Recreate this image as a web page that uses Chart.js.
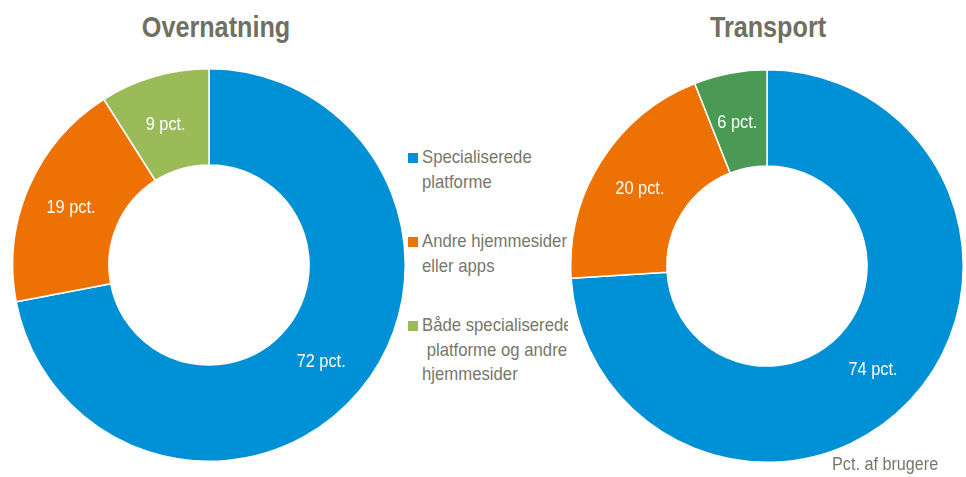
<!DOCTYPE html>
<html>
<head>
<meta charset="utf-8">
<script src="https://cdn.jsdelivr.net/npm/chart.js@4"></script>
<style>
  body { margin: 0; background: #fff; width: 966px; height: 477px; overflow: hidden; position: relative;
         font-family: 'Liberation Sans Narrow', 'Arial Narrow', 'Liberation Sans', sans-serif; }
  .box { position: absolute; width: 394px; height: 394px; }
  .title { position: absolute; top: 10px; font-size: 30px; font-weight: bold; color: #6f6f62; white-space: nowrap;
           transform: translateX(-50%) scaleX(0.84); }
  #legend { position: absolute; left: 408px; top: 145px; width: 160px; overflow: hidden; color: #77776a; font-size: 19px; line-height: 24.5px; }
  #legend .item { position: relative; padding-left: 14px; white-space: pre; }
  #legend .txt { display: inline-block; transform: scaleX(0.88); transform-origin: left center; }
  #legend .sw { position: absolute; left: 0; top: 8px; width: 10px; height: 10px; }
  #note { position: absolute; left: 832px; top: 454px; color: #77776a; font-size: 18px; white-space: nowrap;
          transform: scaleX(0.9); transform-origin: left center; }
</style>
</head>
<body>
<div class="title" style="left:216px">Overnatning</div>
<div class="title" style="left:768px">Transport</div>
<div class="box" style="left:12px;top:68px"><canvas id="leftChart"></canvas></div>
<div class="box" style="left:570px;top:69px"><canvas id="rightChart"></canvas></div>
<div id="legend"></div>
<div id="note">Pct. af brugere</div>
<script>
// ── Data ──
const categories = ['Specialiserede\nplatforme', 'Andre hjemmesider\neller apps', 'Både specialiserede\n platforme og andre\nhjemmesider'];
const overnatning = [72, 19, 9];
const transport   = [74, 20, 6];
const colorsLeft  = ['#0090d5', '#ee7203', '#9bbb59'];
const colorsRight = ['#0090d5', '#ee7203', '#4a9a55'];

// ── Slice labels (narrow look via horizontal scale) ──
const sliceLabels = {
  id: 'sliceLabels',
  afterDatasetsDraw(chart) {
    const ctx = chart.ctx;
    const meta = chart.getDatasetMeta(0);
    meta.data.forEach((arc, i) => {
      const p = arc.tooltipPosition();
      ctx.save();
      ctx.fillStyle = '#ffffff';
      ctx.font = "19px 'Liberation Sans Narrow', 'Arial Narrow', 'Liberation Sans', sans-serif";
      ctx.textAlign = 'center';
      ctx.textBaseline = 'middle';
      ctx.translate(p.x - 2, p.y + 2);
      ctx.scale(0.86, 1);
      ctx.fillText(chart.data.datasets[0].data[i] + ' pct.', 0, 0);
      ctx.restore();
    });
  }
};

function donut(id, values, colors) {
  new Chart(document.getElementById(id), {
    type: 'doughnut',
    data: {
      labels: categories,
      datasets: [{ data: values, backgroundColor: colors, borderColor: '#ffffff', borderWidth: 1.5 }]
    },
    options: {
      responsive: true,
      maintainAspectRatio: false,
      animation: false,
      cutout: '51%',
      layout: { padding: 0 },
      plugins: { legend: { display: false }, tooltip: { enabled: false } }
    },
    plugins: [sliceLabels]
  });
}

donut('leftChart', overnatning, colorsLeft);
donut('rightChart', transport, colorsRight);

// ── Legend ──
const legend = document.getElementById('legend');
const gaps = [0, 35, 35];
categories.forEach((label, i) => {
  const div = document.createElement('div');
  div.className = 'item';
  div.style.marginTop = gaps[i] + 'px';
  div.innerHTML = '<span class="sw" style="background:' + colorsLeft[i] + '"></span>';
  const txt = document.createElement('span');
  txt.className = 'txt';
  txt.textContent = label;
  div.appendChild(txt);
  legend.appendChild(div);
});
</script>
</body>
</html>
